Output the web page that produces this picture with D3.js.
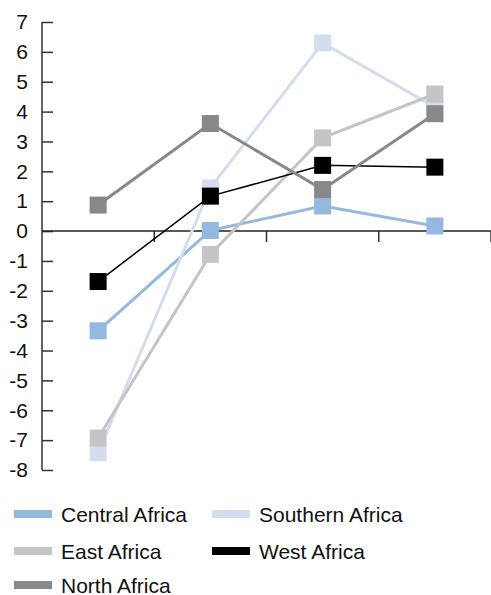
<!DOCTYPE html>
<html><head><meta charset="utf-8">
<script src="https://cdn.jsdelivr.net/npm/d3@7"></script>
<style>body{margin:0;background:#fff}svg{display:block}</style>
</head><body>
<svg id="c" width="491" height="595"></svg>
<script>
const categories = ["P1","P2","P3","P4"];
const seriesNames = ["Central Africa","Southern Africa","East Africa","West Africa","North Africa"];
const centralAfrica = [-3.34, 0.02, 0.84, 0.17];
const southernAfrica = [-7.42, 1.45, 6.3, 4.15];
const eastAfrica = [-6.93, -0.78, 3.12, 4.59];
const westAfrica = [-1.69, 1.17, 2.2, 2.14];
const northAfrica = [0.87, 3.6, 1.39, 3.93];
const yTicks = [7,6,5,4,3,2,1,0,-1,-2,-3,-4,-5,-6,-7,-8];
const colors = ["#95b8df","#d3ddef","#c4c5c7","#000000","#87888a"];
const widths = [3,3,3,1.5,3];
const values = [centralAfrica, southernAfrica, eastAfrica, westAfrica, northAfrica];

const svg = d3.select("#c");
const font = "'Liberation Sans', Arial, sans-serif";
const x = d3.scaleBand().domain(categories).range([42, 491]).padding(0);
const y = d3.scaleLinear().domain([-8, 7]).range([470, 22]);

// y axis
const ya = svg.append("g").attr("transform","translate(42,0)")
  .call(d3.axisLeft(y).tickValues(yTicks).tickSize(-11).tickPadding(14).tickFormat(d3.format("d")));
ya.select(".domain").attr("stroke","#333").attr("stroke-width",1.5).attr("d","M0,"+y(7)+"V"+y(-8));
ya.selectAll(".tick line").attr("stroke","#333").attr("stroke-width",1.5);
ya.selectAll("text").attr("font-family",font).attr("font-size",21).attr("fill","#111")
  .text(d => d < 0 ? "-" + Math.abs(d) : d);

// x axis at zero
const xg = svg.append("g");
xg.append("line").attr("x1",42).attr("x2",491).attr("y1",y(0)).attr("y2",y(0))
  .attr("stroke","#222").attr("stroke-width",1.5);
xg.selectAll("line.tk").data(categories).enter().append("line").attr("class","tk")
  .attr("x1",d=>x(d)+x.bandwidth()).attr("x2",d=>x(d)+x.bandwidth())
  .attr("y1",y(0)).attr("y2",y(0)+11).attr("stroke","#333").attr("stroke-width",1.5);

const line = d3.line().x((d,i)=>x(categories[i])+x.bandwidth()/2).y(d=>y(d));
const ms = 17;
values.forEach((vals, s) => {
  const g = svg.append("g");
  g.append("path").datum(vals).attr("d", line).attr("fill","none")
    .attr("stroke", colors[s]).attr("stroke-width", widths[s]);
  g.selectAll("rect").data(vals).enter().append("rect")
    .attr("x",(d,i)=>x(categories[i])+x.bandwidth()/2-ms/2)
    .attr("y",d=>y(d)-ms/2).attr("width",ms).attr("height",ms)
    .attr("fill",colors[s]);
});

// legend
const legPos = [[14,514],[212,514],[14,551],[212,551],[14,585]];
seriesNames.forEach((n,i)=>{
  const [lx,ly] = legPos[i];
  svg.append("rect").attr("x",lx).attr("y",ly-4).attr("width",38).attr("height",8).attr("fill",colors[i]);
  svg.append("text").attr("x",lx+47).attr("y",ly+7.5).attr("font-family",font).attr("font-size",21)
    .attr("fill","#111").text(n);
});
</script>
</body></html>
